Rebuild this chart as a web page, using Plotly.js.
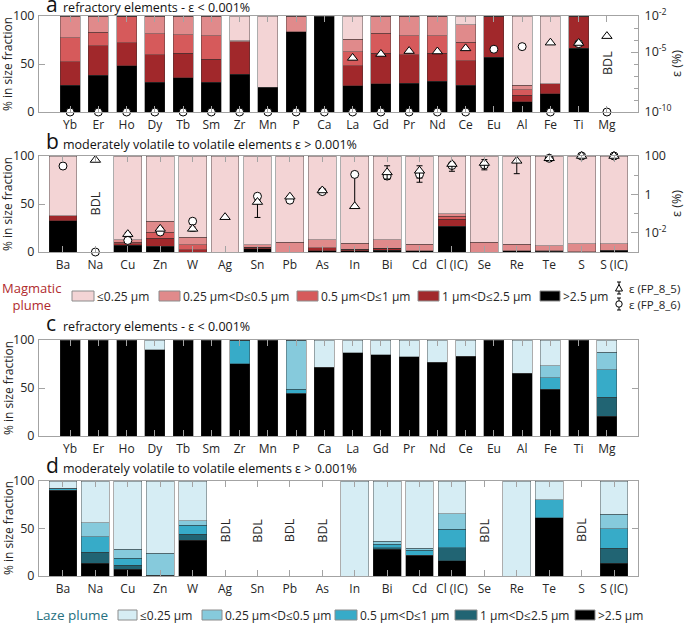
<!DOCTYPE html>
<html><head><meta charset="utf-8">
<script src="https://cdn.plot.ly/plotly-3.0.1.min.js"></script>
<style>html,body{margin:0;padding:0;background:#fff}#chart{width:685px;height:624px}</style>
</head><body><div id="chart"></div>
<script>
// ---------------- DATA ----------------
const catsRefr = ['Yb','Er','Ho','Dy','Tb','Sm','Zr','Mn','P','Ca','La','Gd','Pr','Nd','Ce','Eu','Al','Fe','Ti','Mg'];
const catsVol  = ['Ba','Na','Cu','Zn','W','Ag','Sn','Pb','As','In','Bi','Cd','Cl (IC)','Se','Re','Te','S','S (IC)'];
const sizeLabels = ['≤0.25 µm','0.25 µm<D≤0.5 µm','0.5 µm<D≤1 µm','1 µm<D≤2.5 µm','>2.5 µm'];
const epsLabels = ['ε (FP_8_5)','ε (FP_8_6)'];

// Panel a: magmatic plume, refractory elements (% in size fraction)
const magA_le025  = [0,0,0,0,0,0,25.6,74.4,0,0,24.0,0,0,0,9.3,0,72.0,70.6,0,0];
const magA_025_05 = [22.5,17.0,0,18.7,19.7,20.8,1.4,0,16.6,0,13.0,18.0,20.4,20.8,18.0,0,4.8,0,0,0];
const magA_05_1   = [25.3,14.1,28.0,21.8,19.1,24.2,0,0,0,0,15.0,20.8,20.1,18.0,19.4,0,5.6,0,0,0];
const magA_1_25   = [24.5,30.5,23.6,28.5,25.6,24.2,33.6,0,0,0,20.7,31.8,29.7,29.4,25.3,43.0,6.9,10.4,33.6,0];
const magA_gt25   = [27.7,38.4,48.4,31.0,35.6,30.8,39.4,25.6,83.4,100,27.3,29.4,29.8,31.8,28.0,57.0,10.7,19.0,66.4,0];
// Panel a: epsilon (%)
const epsA_FP85 = [null,null,null,null,null,null,null,null,null,null,3.2e-6,6.8e-6,1.2e-5,1.1e-5,2.0e-5,null,null,6.0e-5,5.6e-5,2.1e-4];
const epsA_FP86 = [1e-10,1e-10,1e-10,1e-10,1e-10,1e-10,1e-10,1e-10,1e-10,1e-10,1e-10,1e-10,1e-10,1e-10,1e-10,1.7e-5,2.8e-5,1e-10,5.0e-5,1e-10];

// Panel b: magmatic plume, volatile elements
const magB_le025  = [62.3,0,87.2,68.2,84.4,100,92.7,90.0,87.2,90.7,87.2,91.7,60.2,89.6,91.7,93.4,91.3,91.3];
const magB_025_05 = [0,0,2.4,11.0,8.0,0,2.1,10.0,8.6,6.2,9.0,6.9,2.5,10.4,6.9,5.1,8.2,6.8];
const magB_05_1   = [0,0,1.7,6.3,5.2,0,0,0,0,0,0,0,3.0,0,0,0,0,0];
const magB_1_25   = [5.2,0,1.8,8.6,2.4,0,1.7,0,2.8,1.7,2.1,0,7.7,0,0,0.5,0,0.5];
const magB_gt25   = [32.5,0,6.9,5.9,0,0,3.5,0,1.4,1.4,1.7,1.4,26.6,0,1.4,1.0,0.5,1.4];
// Panel b: epsilon (%) with error bars
const epsB_FP85      = [null,62,0.0085,0.016,0.016,0.065,0.4,0.76,1.6,0.24,14,17,38,43,56,76,100,100];
const epsB_FP85_errP = [0,0,0.002,0.003,0.004,0,0.1,0.1,0.2,0,17,14,9,22,0,8,0,0];
const epsB_FP85_errM = [0,0,0.002,0.003,0.004,0,0.337,0.1,0.2,0,7.7,12.7,22,24,44,8,0,0];
const epsB_FP86      = [30,0.001,0.004,0.011,0.04,null,0.8,0.5,1.4,11,9,11,32,34,null,76,100,100];
const epsB_FP86_errP = [0,0,0,0,0.015,0,0.1,0.05,0.1,0,3,5,5,6,0,0,0,0];
const epsB_FP86_errM = [0,0,0,0,0.012,0,0.1,0.05,0.1,10.76,3,4,5,6,0,0,0,0];

// Panel c: laze plume, refractory elements
const lazC_le025  = [0,0,0,10.0,0,0,0,0,0,28.4,13.5,15.6,17.3,23.2,17.0,0,34.6,26.6,0,12.8];
const lazC_025_05 = [0,0,0,0,0,0,0,0,51.5,0,0,0,0,0,0,0,0,12.8,0,18.3];
const lazC_05_1   = [0,0,0,0,0,0,24.6,0,4.0,0,0,0,0,0,0,0,0,11.8,0,28.4];
const lazC_1_25   = [0,0,0,0,0,0,0,0,0.5,0,0,0,0,0,0,0,0,0,0,20.1];
const lazC_gt25   = [100,100,100,90.0,100,100,75.4,100,44.0,71.6,86.5,84.4,82.7,76.8,83.0,100,65.4,48.8,100,20.4];

// Panel d: laze plume, volatile elements
const lazD_le025  = [7.5,44.1,71.7,76.2,42.0,0,0,0,0,100,63.3,71.0,34.3,0,100,19.6,0,35.0];
const lazD_025_05 = [0.5,14.6,9.8,22.8,4.5,0,0,0,0,0,3.1,1.7,16.7,0,0,0,0,15.0];
const lazD_05_1   = [1.5,16.5,7.0,0,9.5,0,0,0,0,0,3.6,5.3,19.0,0,0,18.9,0,21.0];
const lazD_1_25   = [0.3,11.2,4.2,0.5,6.2,0,0,0,0,0,2.0,0,13.9,0,0,0,0,15.7];
const lazD_gt25   = [90.2,13.6,7.3,0.5,37.8,0,0,0,0,0,28.0,22.0,16.1,0,0,61.5,0,13.3];

// Below-detection-limit categories
const bdlA = ['Mg'];
const bdlB = ['Na'];
const bdlD = ['Ag','Sn','Pb','As','Se','S'];

const epsTicksA = [1e-10,1e-5,1e-2];
const epsTickTextA = ['10<sup>-10</sup>','10<sup>-5</sup>','10<sup>-2</sup>'];
const epsTicksB = [1e-2,1,100];
const epsTickTextB = ['10<sup>-2</sup>','1','100'];

// ---------------- STYLE ----------------
const magColors  = ['#f3d4d5','#e08a8b','#d65a5b','#a1282b','#000000'];
const lazeColors = ['#d6edf4','#86cadc','#37abc8','#216473','#000000'];
const FONT = 'Open Sans, Noto Sans, sans-serif';
const axisCol = '#a3a3a3';
const textCol = '#262626';
const W = 685, H = 624;
const px = x => x / W;
const py = y => 1 - y / H;
const esc = s => s.replace(/</g,'&lt;').replace(/>/g,'&gt;');

function stacked(cats, series, colors, xa, ya, w) {
  // series: [le025, 025_05, 05_1, 1_25, gt25]; draw from largest (bottom) upward
  const out = [];
  for (let i = 4; i >= 0; i--) {
    out.push({type:'bar', x:cats, y:series[i], xaxis:xa, yaxis:ya, width:w,
      marker:{color:colors[i], line:{color:'rgba(50,50,50,0.5)', width:0.8}},
      showlegend:false, hoverinfo:'skip'});
  }
  return out;
}
function epsTrace(cats, vals, sym, size, xa, ya, errP, errM) {
  const t = {type:'scatter', mode:'markers', x:cats, y:vals, xaxis:xa, yaxis:ya, cliponaxis:false,
    marker:{symbol:sym, size:size, color:'#ffffff', line:{color:'#000000', width:1}},
    showlegend:false, hoverinfo:'skip'};
  if (errP) t.error_y = {type:'data', symmetric:false, array:errP, arrayminus:errM, color:'#000000', thickness:1, width:3};
  return t;
}

const traces = [].concat(
  stacked(catsRefr, [magA_le025,magA_025_05,magA_05_1,magA_1_25,magA_gt25], magColors, 'x', 'y', 0.71),
  [epsTrace(catsRefr, epsA_FP86, 'circle', 8, 'x', 'y2'),
   epsTrace(catsRefr, epsA_FP85, 'triangle-up', 9, 'x', 'y2')],
  stacked(catsVol, [magB_le025,magB_025_05,magB_05_1,magB_1_25,magB_gt25], magColors, 'x2', 'y3', 0.86),
  [epsTrace(catsVol, epsB_FP86, 'circle', 8, 'x2', 'y4', epsB_FP86_errP, epsB_FP86_errM),
   epsTrace(catsVol, epsB_FP85, 'triangle-up', 9, 'x2', 'y4', epsB_FP85_errP, epsB_FP85_errM)],
  stacked(catsRefr, [lazC_le025,lazC_025_05,lazC_05_1,lazC_1_25,lazC_gt25], lazeColors, 'x3', 'y5', 0.71),
  stacked(catsVol, [lazD_le025,lazD_025_05,lazD_05_1,lazD_1_25,lazD_gt25], lazeColors, 'x4', 'y6', 0.86)
);

const xDom = [px(39), px(638)];
const dom = {a:[py(112),py(16)], b:[py(252),py(156)], c:[py(436),py(340)], d:[py(576),py(481)]};

function xAx(cats, range, anchor) {
  return {type:'category', categoryorder:'array', categoryarray:cats, range:range, anchor:anchor, domain:xDom,
    showline:true, linecolor:axisCol, linewidth:1, mirror:'ticks', ticks:'inside', ticklen:6, tickcolor:axisCol,
    tickfont:{family:FONT, size:12, color:textCol}, showgrid:false, zeroline:false, fixedrange:true, ticklabelstandoff:2};
}
function yAx(domain, anchor, mirror) {
  return {domain:domain, anchor:anchor, range:[0,100], tickvals:[0,50,100], showline:true, linecolor:axisCol, linewidth:1,
    mirror:mirror, ticks:'inside', ticklen:6, tickcolor:axisCol, tickfont:{family:FONT, size:12.5, color:textCol},
    showgrid:false, zeroline:false, fixedrange:true, ticklabelstandoff:1};
}
function yLog(overlay, anchor, range, tv, tt, minorVals) {
  return {overlaying:overlay, anchor:anchor, side:'right', type:'log', range:range, tickvals:tv, ticktext:tt,
    ticks:'inside', ticklen:7, tickcolor:axisCol, showline:true, linecolor:axisCol, linewidth:1,
    minor:{tickvals:minorVals, ticks:'inside', ticklen:4, tickcolor:axisCol},
    tickfont:{family:FONT, size:12.5, color:textCol}, showgrid:false, zeroline:false, fixedrange:true, ticklabelstandoff:3};
}

const annotations = [];
const shapes = [];
function titleAnn(letter, text, baseline) {
  annotations.push({xref:'paper', yref:'paper', x:px(44), y:py(baseline + 0.3*21 + 1), xanchor:'left', yanchor:'bottom',
    text:letter, showarrow:false, font:{family:FONT, size:21, color:'#111'}});
  annotations.push({xref:'paper', yref:'paper', x:px(61), y:py(baseline + 0.3*12.5 + 1), xanchor:'left', yanchor:'bottom',
    text:esc(text), showarrow:false, font:{family:FONT, size:12.5, color:'#111'}});
}
titleAnn('a', 'refractory elements - ε < 0.001%', 13);
titleAnn('b', 'moderately volatile to volatile elements ε > 0.001%', 150);
titleAnn('c', 'refractory elements - ε < 0.001%', 332);
titleAnn('d', 'moderately volatile to volatile elements ε > 0.001%', 474);

[64, 204, 388, 528].forEach(yc => annotations.push({xref:'paper', yref:'paper', x:px(8), y:py(yc), xanchor:'center', yanchor:'middle',
  text:'% in size fraction', textangle:-90, showarrow:false, font:{family:FONT, size:12, color:textCol}}));
[64, 204].forEach(yc => annotations.push({xref:'paper', yref:'paper', x:px(677), y:py(yc), xanchor:'center', yanchor:'middle',
  text:'ε (%)', textangle:-90, showarrow:false, font:{family:FONT, size:12.5, color:textCol}}));

function bdl(list, xa, ya, yv) {
  list.forEach(c => annotations.push({xref:xa, yref:ya, x:c, y:yv, xanchor:'center', yanchor:'middle', text:'BDL', textangle:-90,
    showarrow:false, font:{family:FONT, size:12.5, color:textCol}}));
}
bdl(bdlA, 'x', 'y', 51);
bdl(bdlB, 'x2', 'y3', 51);
bdl(bdlD, 'x4', 'y6', 48);

// Legends
function sizeLegend(title, titleX, titleSize, colors, swatches, yc, titleColor) {
  annotations.push({xref:'paper', yref:'paper', x:px(titleX), y:py(yc), xanchor:'center', yanchor:'middle', align:'center',
    text:title, showarrow:false, font:{family:FONT, size:titleSize, color:titleColor}});
  swatches.forEach((s, i) => {
    shapes.push({type:'rect', xref:'paper', yref:'paper', x0:px(s[0]), x1:px(s[1]), y0:py(yc+5), y1:py(yc-5),
      fillcolor:colors[i], line:{color:'#8c8c8c', width:1}});
    annotations.push({xref:'paper', yref:'paper', x:px(s[1]+1), y:py(yc), xanchor:'left', yanchor:'middle',
      text:esc(sizeLabels[i]), showarrow:false, font:{family:FONT, size:12, color:textCol}});
  });
}
sizeLegend('Magmatic<br>plume', 31, 13, magColors, [[72,94],[159,180],[297,318],[418,439],[540,560]], 296, '#b02a2e');
sizeLegend('Laze plume', 72, 13.5, lazeColors, [[118,137],[202,222],[335,357],[455,477],[575,595]], 615, '#26707f');

// epsilon legend icons
function epsIcon(cx, cy, tri, label) {
  const L = (x0,y0,x1,y1) => shapes.push({type:'line', xref:'paper', yref:'paper', x0:px(x0), y0:py(y0), x1:px(x1), y1:py(y1), line:{color:'#000', width:1}});
  L(cx, cy-6, cx, cy+6); L(cx-2, cy-6, cx+2, cy-6); L(cx-2, cy+6, cx+2, cy+6);
  if (tri) {
    shapes.push({type:'path', xref:'paper', yref:'paper',
      path:`M ${px(cx-3.5)} ${py(cy+3)} L ${px(cx+3.5)} ${py(cy+3)} L ${px(cx)} ${py(cy-3.5)} Z`,
      fillcolor:'#fff', line:{color:'#000', width:1}});
  } else {
    shapes.push({type:'circle', xref:'paper', yref:'paper', x0:px(cx-3.2), x1:px(cx+3.2), y0:py(cy+3.2), y1:py(cy-3.2),
      fillcolor:'#fff', line:{color:'#000', width:1}});
  }
  annotations.push({xref:'paper', yref:'paper', x:px(cx+8), y:py(cy), xanchor:'left', yanchor:'middle', text:label,
    showarrow:false, font:{family:FONT, size:11.5, color:textCol}});
}
epsIcon(619, 288, true, epsLabels[0]);
epsIcon(619, 304, false, epsLabels[1]);

const layout = {
  width:W, height:H, margin:{l:0,r:0,t:0,b:0}, paper_bgcolor:'#fff', plot_bgcolor:'#fff',
  barmode:'stack', showlegend:false, font:{family:FONT, color:textCol},
  xaxis: xAx(catsRefr, [-1.1, 20.1], 'y'),
  yaxis: yAx(dom.a, 'x', true),
  yaxis2: yLog('y', 'x', [-10, -2], epsTicksA, epsTickTextA, [1e-9,1e-8,1e-7,1e-6,1e-4,1e-3]),
  xaxis2: xAx(catsVol, [-0.74, 17.74], 'y3'),
  yaxis3: yAx(dom.b, 'x2', true),
  yaxis4: yLog('y3', 'x2', [-3, 2], epsTicksB, epsTickTextB, [1e-3,0.1,10]),
  xaxis3: xAx(catsRefr, [-1.1, 20.1], 'y5'),
  yaxis5: yAx(dom.c, 'x3', 'ticks'),
  xaxis4: xAx(catsVol, [-0.74, 17.74], 'y6'),
  yaxis6: yAx(dom.d, 'x4', 'ticks'),
  annotations: annotations, shapes: shapes
};

Plotly.newPlot('chart', traces, layout, {displayModeBar:false, staticPlot:true});
</script></body></html>
